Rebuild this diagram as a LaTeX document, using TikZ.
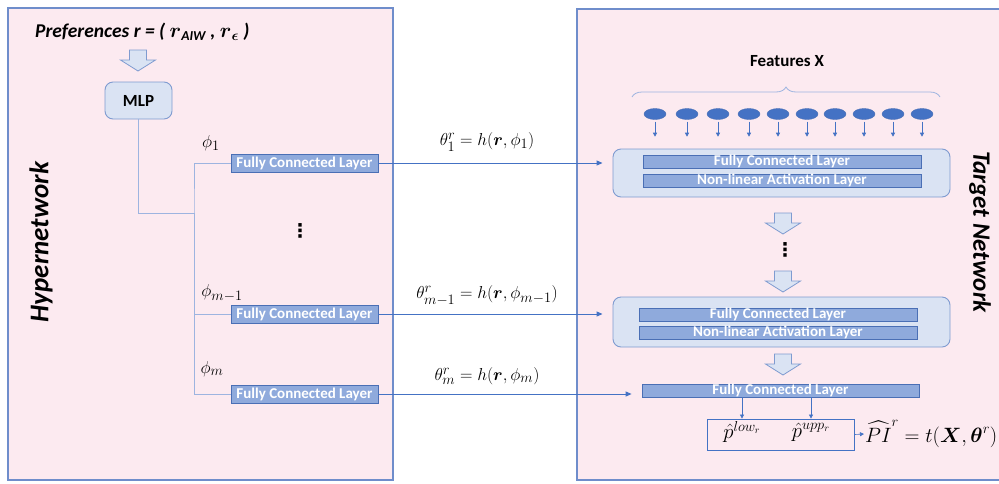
\documentclass[tikz,border=0pt]{standalone}
\usepackage{amsmath}
\usepackage{fontspec}
\setmainfont{Carlito}
\newfontfamily\dejavu{DejaVu Sans}
\usetikzlibrary{arrows.meta,decorations.pathreplacing,shapes.geometric}
\definecolor{panelpink}{HTML}{FCEAF0}
\definecolor{panelline}{HTML}{6F8DCB}
\definecolor{barfill}{HTML}{8FAADC}
\definecolor{barline}{HTML}{4A6FB5}
\definecolor{lightfill}{HTML}{DAE3F3}
\definecolor{lightline}{HTML}{7F9BD0}
\definecolor{connblue}{HTML}{4472C4}
\definecolor{thinblue}{HTML}{9DB4E0}
\newcommand{\fsz}[1]{\fontsize{#1}{#1}\selectfont}
\begin{document}
\begin{tikzpicture}[x=1pt,y=-1pt,
  panel/.style={draw=panelline, line width=1.1pt, fill=panelpink},
  fcbar/.style={draw=barline, fill=barfill, line width=0.8pt, text=white,
    font=\bfseries\fsz{15}, inner sep=0pt, minimum height=14},
  roundblk/.style={draw=lightline, fill=lightfill, line width=0.9pt, rounded corners=8, inner sep=0pt},
  thinline/.style={draw=thinblue, line width=0.8pt},
  conn/.style={draw=connblue, line width=1pt, -{Triangle[length=6pt,width=5pt]}},
  smallarr/.style={draw=connblue, line width=0.6pt, -{Triangle[length=4pt,width=4pt]}},
  feat/.style={ellipse, fill=connblue, draw=barline, inner sep=0pt, minimum width=22, minimum height=11},
  bigdown/.pic={\draw[fill=lightfill, draw=lightline, line width=0.8pt]
      (-8.5,0)--(8.5,0)--(8.5,10)--(17.5,10)--(0,21)--(-17.5,10)--(-8.5,10)--cycle;},
  mathlbl/.style={font=\fsz{19}, inner sep=1pt},
  dotsty/.style={font=\dejavu\bfseries\fsz{19}, inner sep=0pt},
  sidetitle/.style={font=\bfseries\itshape\fsz{27}, inner sep=0pt}
]
\useasboundingbox (0,0) rectangle (999,483);
\fill[white] (0,0) rectangle (999,483);
% panels
\draw[panel] (8,8) rectangle (393,480);
\draw[panel] (577,9) rectangle (1005,480);
\node[sidetitle, rotate=90] (hyp) at (41,242) {Hypernetwork};
\node[sidetitle, rotate=-90, font=\bfseries\itshape\fsz{25}] (tgt) at (980,232) {Target Network};

% hypernetwork
\node[anchor=west, inner sep=0pt, font=\bfseries\itshape\fsz{19.5}] (pref) at (35,32)
  {Preferences r = ( $\boldsymbol{r}$\textsubscript{AIW} , $\boldsymbol{r}_{\boldsymbol{\epsilon}}$ )};
\pic (ba1) at (138,50) {bigdown};
\node[roundblk, minimum width=67, minimum height=37, font=\bfseries\fsz{17}] (mlp) at (138.5,100.5) {MLP};
\node[fcbar, minimum width=147, minimum height=18] (fc1) at (304.5,163) {Fully Connected Layer};
\node[fcbar, minimum width=147, minimum height=18] (fc2) at (304.5,314) {Fully Connected Layer};
\node[fcbar, minimum width=147, minimum height=18] (fc3) at (304.5,394) {Fully Connected Layer};
\node[mathlbl] (phi1) at (211,143) {$\phi_1$};
\node[mathlbl] (phi2) at (222,293) {$\phi_{m-1}$};
\node[mathlbl] (phi3) at (212,369) {$\phi_m$};
\node[dotsty] (vd1) at (300,231) {⋮};
\coordinate (j) at (194,213);
\draw[thinline] (mlp.south) |- (j);
\draw[thinline] (fc1.west) -| (j) |- (fc2.west);
\draw[thinline] (j) |- (fc3.west);

% target network
\node[font=\bfseries\fsz{17}] (featx) at (787,61) {Features X};
\draw[thinblue, line width=0.8pt, decorate, decoration={brace, amplitude=10pt}] (632,97) -- (940,97);
\foreach \i/\x in {1/655,2/687,3/718,4/749,5/778,6/807,7/835,8/864,9/893,10/922}{
  \node[feat] (f\i) at (\x,114) {};
  \draw[smallarr] (f\i.south) ++(0,2) -- ++(0,15);
}
\node[roundblk, minimum width=337, minimum height=48] (blk1) at (781.5,173) {};
\node[fcbar, minimum width=278, minimum height=13] (b1a) at (782,161.5) {Fully Connected Layer};
\node[fcbar, minimum width=278, minimum height=13] (b1b) at (782,180.5) {Non-linear Activation Layer};
\pic (ba2) at (783,213) {bigdown};
\node[dotsty] (vd2) at (785,250) {⋮};
\pic (ba3) at (783,271) {bigdown};
\node[roundblk, minimum width=337, minimum height=50] (blk2) at (781.5,322) {};
\node[fcbar, minimum width=278, minimum height=13] (b2a) at (778,314.5) {Fully Connected Layer};
\node[fcbar, minimum width=278, minimum height=13] (b2b) at (778,332.5) {Non-linear Activation Layer};
\pic (ba4) at (783,354) {bigdown};
\node[fcbar, minimum width=277, minimum height=13] (fcf) at (780.5,390.5) {Fully Connected Layer};
\node[draw=connblue, line width=0.8pt, minimum width=147, minimum height=31, inner sep=0pt] (outb) at (780.5,434.5) {};
\node[mathlbl, font=\fsz{20}] (plow) at (742,432) {$\hat{p}^{low_r}$};
\node[mathlbl, font=\fsz{20}] (pupp) at (811,432) {$\hat{p}^{upp_r}$};
\draw[smallarr] (fcf.south -| plow) -- (outb.north -| plow);
\draw[smallarr] (fcf.south -| pupp) -- (outb.north -| pupp);
\node[mathlbl, anchor=west, font=\fsz{20}] (pi) at (864,434) {$\widehat{PI}^r = t(\boldsymbol{X},\boldsymbol{\theta}^r)$};
\draw[smallarr] (outb.east) -- (pi.west);

% connectors hyper -> target
\draw[conn] (fc1.east) -- ([xshift=-10]blk1.west |- fc1.east);
\draw[conn] (fc2.east) -- ([xshift=-10]blk2.west |- fc2.east);
\draw[conn] (fc3.east) -- ([xshift=-10]fcf.west |- fc3.east);
\node[mathlbl] (t1) at (487,142) {$\theta_1^r = h(\boldsymbol{r},\phi_1)$};
\node[mathlbl] (t2) at (487,296) {$\theta_{m-1}^r = h(\boldsymbol{r},\phi_{m-1})$};
\node[mathlbl] (t3) at (487,376) {$\theta_m^r = h(\boldsymbol{r},\phi_m)$};
\end{tikzpicture}
\end{document}
